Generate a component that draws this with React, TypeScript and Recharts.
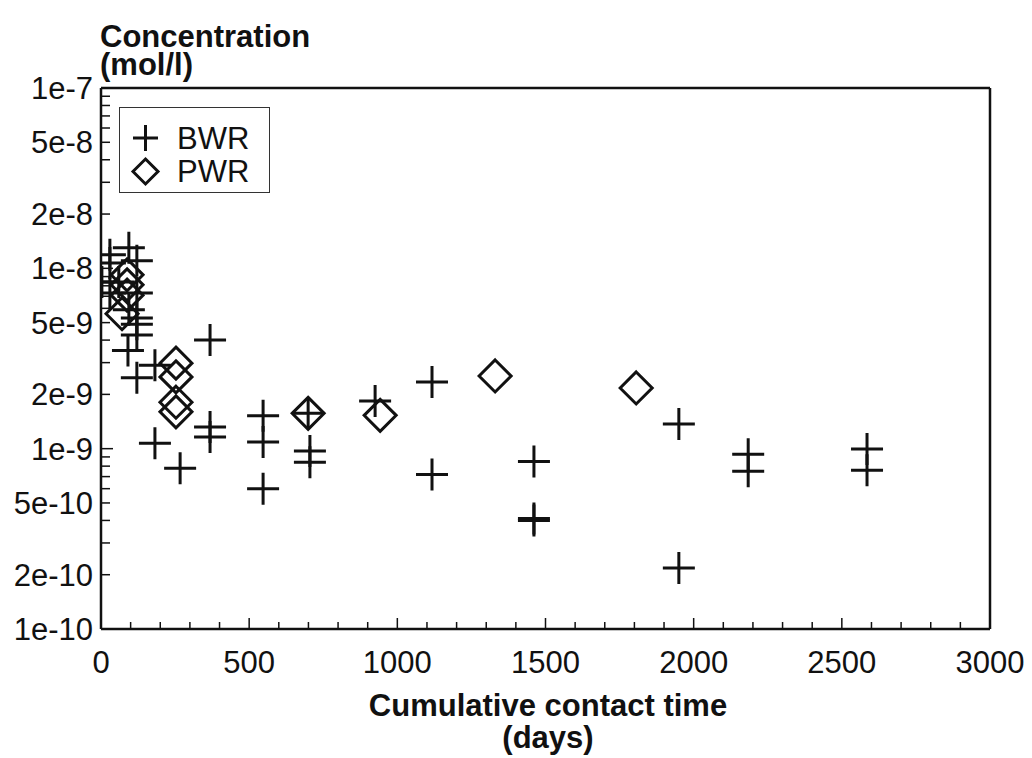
import React from "react";
import { ScatterChart, Scatter, XAxis, YAxis, Legend } from "recharts";

// BWR leachate (crosses): contact time in days, concentration in mol/l
const bwrDays = [3, 30, 30, 30, 60, 94, 94, 121, 121, 121, 121, 121, 91, 121, 182, 182, 267, 368, 368, 368, 547, 547, 547, 699, 705, 705, 925, 1117, 1117, 1461, 1461, 1461, 1950, 1950, 2184, 2184, 2585, 2585];
const bwrConc = [8.4e-9, 1.19e-8, 1.07e-8, 7.3e-9, 8.4e-9, 1.3e-8, 5.9e-9, 1.1e-8, 7.3e-9, 5.3e-9, 4.9e-9, 4.27e-9, 3.5e-9, 2.47e-9, 2.9e-9, 1.07e-9, 7.8e-10, 4.0e-9, 1.32e-9, 1.16e-9, 1.52e-9, 1.09e-9, 6.0e-10, 1.57e-9, 9.7e-10, 8.4e-10, 1.84e-9, 2.34e-9, 7.2e-10, 8.5e-10, 4.0e-10, 4.1e-10, 1.37e-9, 2.18e-10, 9.3e-10, 7.5e-10, 9.95e-10, 7.6e-10];

// PWR leachate (diamonds)
const pwrDays = [88, 88, 88, 71, 253, 253, 253, 253, 699, 942, 1330, 1806];
const pwrConc = [9.2e-9, 8.1e-9, 7.1e-9, 5.6e-9, 2.98e-9, 2.5e-9, 1.81e-9, 1.6e-9, 1.57e-9, 1.53e-9, 2.53e-9, 2.17e-9];

const xTicks = [0, 100, 200, 300, 400, 500, 600, 700, 800, 900, 1000, 1100, 1200, 1300, 1400, 1500, 1600, 1700, 1800, 1900, 2000, 2100, 2200, 2300, 2400, 2500, 2600, 2700, 2800, 2900, 3000];
const xLabelTicks = [0, 500, 1000, 1500, 2000, 2500, 3000];

const yTicks = [1e-10, 2e-10, 3e-10, 4e-10, 5e-10, 6e-10, 7e-10, 8e-10, 9e-10, 1e-9, 2e-9, 3e-9, 4e-9, 5e-9, 6e-9, 7e-9, 8e-9, 9e-9, 1e-8, 2e-8, 3e-8, 4e-8, 5e-8, 6e-8, 7e-8, 8e-8, 9e-8, 1e-7];
const yLabelValues = [1e-10, 2e-10, 5e-10, 1e-9, 2e-9, 5e-9, 1e-8, 2e-8, 5e-8, 1e-7];
const yLabels = ["1e-10", "2e-10", "5e-10", "1e-9", "2e-9", "5e-9", "1e-8", "2e-8", "5e-8", "1e-7"];

const bwrData = bwrDays.map((d, i) => ({ x: d, y: bwrConc[i] }));
const pwrData = pwrDays.map((d, i) => ({ x: d, y: pwrConc[i] }));

const FONT = "'Liberation Sans', Arial, Helvetica, sans-serif";
const INK = "#111";
const FS = 31;

const Cross = (props: any) => {
  const { cx, cy } = props;
  if (cx == null || cy == null) return null;
  return (
    <path
      d={`M${cx - 16},${cy}H${cx + 16}M${cx},${cy - 16}V${cy + 16}`}
      stroke={INK}
      strokeWidth={3}
      fill="none"
    />
  );
};

const Diamond = (props: any) => {
  const { cx, cy } = props;
  if (cx == null || cy == null) return null;
  return (
    <path
      d={`M${cx},${cy - 16}L${cx + 16},${cy}L${cx},${cy + 16}L${cx - 16},${cy}Z`}
      stroke={INK}
      strokeWidth={3}
      fill="none"
    />
  );
};

const XTick = (props: any) => {
  const { x, y, payload } = props;
  const v = payload.value;
  const major = xLabelTicks.includes(v);
  return (
    <g>
      <line x1={x} x2={x} y1={y} y2={y - (major ? 11 : 7)} stroke={INK} strokeWidth={1.5} />
      {major && (
        <text x={x} y={y + 44} textAnchor="middle" fontSize={FS} fontFamily={FONT} fill={INK}>
          {String(v)}
        </text>
      )}
    </g>
  );
};

const YTick = (props: any) => {
  const { x, y, payload } = props;
  const v = payload.value;
  const idx = yLabelValues.findIndex((t) => Math.abs(t - v) / t < 1e-6);
  const lg = Math.log10(v);
  const decade = Math.abs(lg - Math.round(lg)) < 1e-6;
  return (
    <g>
      <line x1={x} x2={x + (decade ? 12 : 9)} y1={y} y2={y} stroke={INK} strokeWidth={1.5} />
      {idx >= 0 && (
        <text x={x - 8} y={y + 11} textAnchor="end" fontSize={FS} fontFamily={FONT} fill={INK}>
          {yLabels[idx]}
        </text>
      )}
    </g>
  );
};

const LegendBox = () => (
  <div
    style={{
      width: 151,
      height: 86,
      border: "1.5px solid #333",
      background: "#fff",
      boxSizing: "border-box",
    }}
  >
    <svg width={151} height={86} style={{ display: "block" }}>
      <path d="M13,30H38M25.5,17V43" stroke={INK} strokeWidth={3} fill="none" />
      <text x={57} y={41} fontSize={FS} fontFamily={FONT} fill={INK}>BWR</text>
      <path d="M25.5,51L38,63.5L25.5,76L13,63.5Z" stroke={INK} strokeWidth={3} fill="none" />
      <text x={57} y={74} fontSize={FS} fontFamily={FONT} fill={INK}>PWR</text>
    </svg>
  </div>
);

export default function App() {
  return (
    <div style={{ position: "absolute", left: 0, top: 0, width: 1032, height: 758, background: "#fff" }}>
      <ScatterChart
        width={1032}
        height={758}
        margin={{ top: 87, right: 41, left: 1, bottom: 29 }}
      >
        <XAxis
          type="number"
          dataKey="x"
          domain={[0, 3000]}
          ticks={xTicks}
          interval={0}
          tick={<XTick />}
          tickLine={false}
          tickSize={0}
          tickMargin={0}
          height={100}
          axisLine={{ stroke: INK, strokeWidth: 2.5 }}
          allowDataOverflow
        />
        <XAxis
          xAxisId="top"
          orientation="top"
          type="number"
          domain={[0, 3000]}
          tick={false}
          tickLine={false}
          height={1}
          axisLine={{ stroke: INK, strokeWidth: 2.5 }}
        />
        <YAxis
          type="number"
          dataKey="y"
          scale="log"
          domain={[1e-10, 1e-7]}
          ticks={yTicks}
          interval={0}
          tick={<YTick />}
          tickLine={false}
          tickSize={0}
          tickMargin={0}
          width={100}
          axisLine={{ stroke: INK, strokeWidth: 2.5 }}
          allowDataOverflow
        />
        <YAxis
          yAxisId="right"
          orientation="right"
          type="number"
          scale="log"
          domain={[1e-10, 1e-7]}
          tick={false}
          tickLine={false}
          width={1}
          axisLine={{ stroke: INK, strokeWidth: 2.5 }}
        />
        <Legend
          layout="vertical"
          align="center"
          verticalAlign="middle"
          wrapperStyle={{ left: 119, top: 107, width: 151 }}
          content={<LegendBox />}
        />
        <Scatter name="BWR" data={bwrData} shape={<Cross />} isAnimationActive={false} />
        <Scatter name="PWR" data={pwrData} shape={<Diamond />} isAnimationActive={false} />
      </ScatterChart>
      <svg
        width={1032}
        height={758}
        style={{ position: "absolute", left: 0, top: 0, pointerEvents: "none" }}
      >
        <text x={100} y={47} fontSize={FS} fontWeight="bold" fontFamily={FONT} fill={INK}>
          Concentration
        </text>
        <text x={100} y={75} fontSize={FS} fontWeight="bold" fontFamily={FONT} fill={INK}>
          (mol/l)
        </text>
        <text x={548} y={716} textAnchor="middle" fontSize={FS} fontWeight="bold" fontFamily={FONT} fill={INK}>
          Cumulative contact time
        </text>
        <text x={548} y={748} textAnchor="middle" fontSize={FS} fontWeight="bold" fontFamily={FONT} fill={INK}>
          (days)
        </text>
      </svg>
    </div>
  );
}
